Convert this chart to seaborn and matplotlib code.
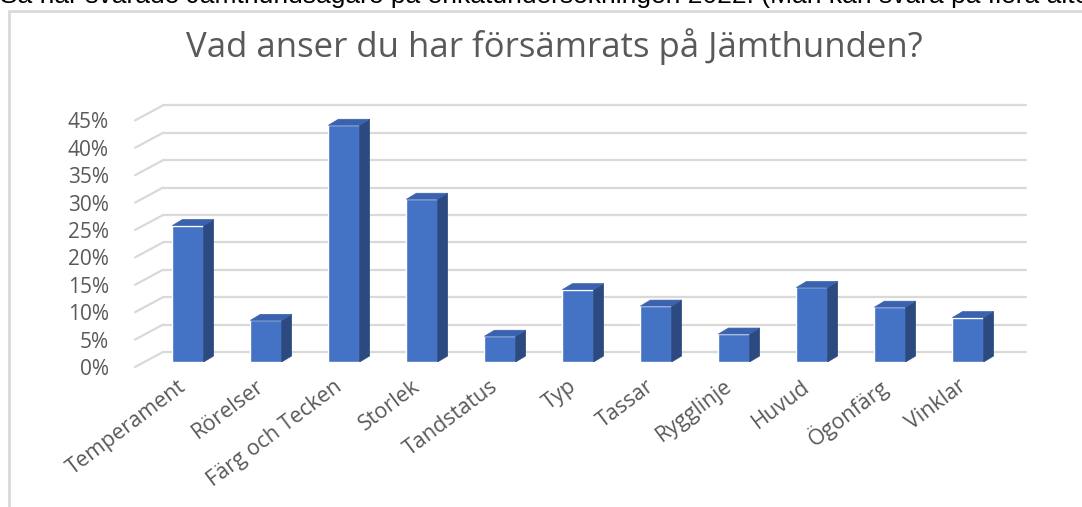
import matplotlib
matplotlib.use("Agg")
import matplotlib.pyplot as plt
import matplotlib.transforms as mtransforms
from matplotlib.patches import Polygon
from matplotlib.ticker import PercentFormatter
import seaborn as sns

# survey answers (share of respondents)
categories = ["Temperament", "Rörelser", "Färg och Tecken", "Storlek", "Tandstatus",
              "Typ", "Tassar", "Rygglinje", "Huvud", "Ögonfärg", "Vinklar"]
values = [0.249, 0.076, 0.432, 0.297, 0.047, 0.132, 0.102, 0.051, 0.136, 0.100, 0.081]
y_ticks = [0, 0.05, 0.10, 0.15, 0.20, 0.25, 0.30, 0.35, 0.40, 0.45]

title = "Vad anser du har försämrats på Jämthunden?"
caption = ("Så här svarade Jämthundsägare på enkätundersökningen 2022. "
           "(Man kan svara på flera alternativ)")

front_col = "#4472C4"
side_col = "#2C4A80"
top_col = "#3A62AE"
grid_col = "#D9D9D9"
text_col = "#595959"

sns.set_style("white")
plt.rcParams["font.family"] = ["Open Sans", "DejaVu Sans"]

W, H, DPI = 1082, 507, 100
fig = plt.figure(figsize=(W / DPI, H / DPI), dpi=DPI)

# plot area in pixels (from top-left)
L, R, TOP, BASE = 120, 1040, 90, 362
X0, STEP, YSCALE = 188, 78, 548  # first bar centre, bar spacing, px per unit

ax = fig.add_axes([L / W, (H - BASE) / H, (R - L) / W, (BASE - TOP) / H])
sns.barplot(x=categories, y=values, color=front_col, saturation=1,
            width=0.4, ax=ax, zorder=3)
ax.set_xlim((L - X0) / STEP, (R - X0) / STEP)
ax.set_ylim(0, (BASE - TOP) / YSCALE)

px_x = 1 / STEP
px_y = 1 / YSCALE

# back wall gridlines and the floor/side diagonals
back_left = (163 - X0) * px_x
back_right = (1026 - X0) * px_x
front_left = (135 - X0) * px_x
for t in y_ticks:
    ax.plot([back_left, back_right], [t + 10 * px_y, t + 10 * px_y],
            color=grid_col, lw=1.6, zorder=1, clip_on=False)
    ax.plot([front_left, back_left], [t - 5 * px_y, t + 10 * px_y],
            color=grid_col, lw=1.6, zorder=1, clip_on=False)

# fake 3D: side and top faces of each bar
dx, dy = 10 * px_x, 6 * px_y
for p in list(ax.patches):
    x, w, h = p.get_x(), p.get_width(), p.get_height()
    side = Polygon([(x + w, 0), (x + w + dx, dy), (x + w + dx, h + dy), (x + w, h)],
                   closed=True, facecolor=side_col, edgecolor=side_col, lw=0.5, zorder=3)
    top = Polygon([(x, h), (x + dx, h + dy), (x + w + dx, h + dy), (x + w, h)],
                  closed=True, facecolor=top_col, edgecolor=top_col, lw=0.5, zorder=3)
    ax.add_patch(side)
    ax.add_patch(top)

sns.despine(ax=ax, left=True, bottom=True)
ax.set_yticks(y_ticks)
ax.yaxis.set_major_formatter(PercentFormatter(1.0, decimals=0))
ax.tick_params(axis="y", length=0, pad=8, labelsize=15, labelcolor=text_col)
ax.tick_params(axis="x", length=0, pad=16, labelsize=15.5, labelcolor=text_col)
ax.set_xlabel("")
ax.set_ylabel("")

shift = mtransforms.ScaledTranslation(0, -5 / DPI, fig.dpi_scale_trans)
for lab in ax.get_yticklabels():
    lab.set_transform(lab.get_transform() + shift)
xshift = mtransforms.ScaledTranslation(-4 / DPI, 0, fig.dpi_scale_trans)
for lab in ax.get_xticklabels():
    lab.set_rotation(37)
    lab.set_ha("right")
    lab.set_va("center")
    lab.set_rotation_mode("anchor")
    lab.set_transform(lab.get_transform() + xshift)

# chart title
fig.text(554 / W, 1 - 57 / H, title, ha="center", va="baseline",
         fontsize=25, color=text_col)

# frame of the chart area
fig.add_artist(plt.Line2D([9 / W, 9 / W], [0, 1 - 11 / H], color=grid_col, lw=2))
fig.add_artist(plt.Line2D([9 / W, 1], [1 - 11 / H, 1 - 11 / H], color=grid_col, lw=2))

# caption above the chart (cut off at the top edge, as in the source)
fig.text(0, 1 - 3 / H, caption, ha="left", va="baseline", fontsize=19,
         color="black", family=["Liberation Sans", "DejaVu Sans"])

fig.savefig("out.png", dpi=DPI)
